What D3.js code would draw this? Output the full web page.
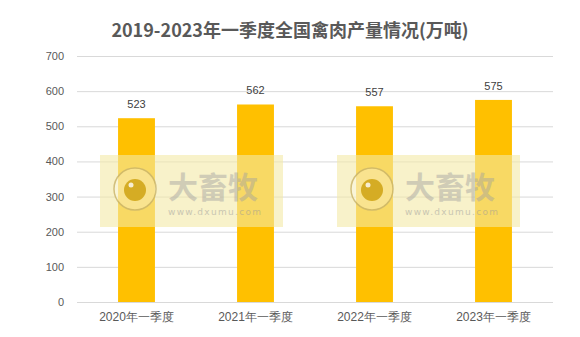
<!DOCTYPE html>
<html>
<head>
<meta charset="utf-8">
<script src="https://cdn.jsdelivr.net/npm/d3@7"></script>
<style>
  body { margin: 0; background: #fff; }
  svg { font-family: "Noto Sans CJK SC", "Liberation Sans", sans-serif; }
</style>
</head>
<body>
<div class="chart"></div>
<script>
var categories = ['2020年一季度', '2021年一季度', '2022年一季度', '2023年一季度'];
var values = [523, 562, 557, 575];
var yTicks = [0, 100, 200, 300, 400, 500, 600, 700];

var width = 580, height = 337;
var margin = {top: 56, right: 27, bottom: 35, left: 77};

var svg = d3.select('.chart').append('svg')
  .attr('width', width)
  .attr('height', height);

var x = d3.scaleBand()
  .domain(categories)
  .range([margin.left, width - margin.right])
  .paddingInner(0.69)
  .paddingOuter(0.345);

var y = d3.scaleLinear()
  .domain([0, 700])
  .range([height - margin.bottom, margin.top]);

// title
svg.append('text')
  .attr('x', 290)
  .attr('y', 37)
  .attr('text-anchor', 'middle')
  .attr('font-size', 18)
  .attr('font-weight', 'bold')
  .attr('fill', '#595959')
  .text('2019-2023年一季度全国禽肉产量情况(万吨)');

// gridlines
svg.append('g')
  .selectAll('line')
  .data(yTicks)
  .enter()
  .append('line')
  .attr('x1', margin.left)
  .attr('x2', width - margin.right)
  .attr('y1', function (d) { return y(d) + 0.5; })
  .attr('y2', function (d) { return y(d) + 0.5; })
  .attr('stroke', '#d9d9d9')
  .attr('stroke-width', 1);

// y axis labels
var yAxis = svg.append('g')
  .attr('transform', 'translate(' + (margin.left - 13) + ',0)')
  .call(d3.axisLeft(y).tickValues(yTicks).tickSize(0).tickPadding(0));
yAxis.select('.domain').remove();
yAxis.selectAll('text')
  .attr('font-size', 11)
  .attr('fill', '#595959')
  .attr('font-family', '"Liberation Sans", sans-serif');

// x axis labels
var xAxis = svg.append('g')
  .attr('transform', 'translate(0,' + y(0) + ')')
  .call(d3.axisBottom(x).tickSize(0).tickPadding(10));
xAxis.select('.domain').remove();
xAxis.selectAll('text')
  .attr('font-size', 12)
  .attr('fill', '#595959');

// bars
svg.append('g')
  .selectAll('rect')
  .data(values)
  .enter()
  .append('rect')
  .attr('x', function (d, i) { return x(categories[i]); })
  .attr('y', function (d) { return y(d); })
  .attr('width', x.bandwidth())
  .attr('height', function (d) { return y(0) - y(d); })
  .attr('fill', '#ffc000');

// value labels
svg.append('g')
  .selectAll('text')
  .data(values)
  .enter()
  .append('text')
  .attr('x', function (d, i) { return x(categories[i]) + x.bandwidth() / 2; })
  .attr('y', function (d) { return y(d) - 10; })
  .attr('text-anchor', 'middle')
  .attr('font-size', 11)
  .attr('fill', '#404040')
  .attr('font-family', '"Liberation Sans", sans-serif')
  .text(function (d) { return d; });

// watermarks
[100, 337].forEach(function (wx) {
  var g = svg.append('g').attr('transform', 'translate(' + wx + ',155)');
  g.append('rect')
    .attr('width', 183).attr('height', 72)
    .attr('fill', '#f3e9a6').attr('opacity', 0.6);
  g.append('circle')
    .attr('cx', 35).attr('cy', 34).attr('r', 21)
    .attr('fill', '#fff').attr('fill-opacity', 0.35)
    .attr('stroke', '#c9b46a').attr('stroke-width', 1.5).attr('opacity', 0.8);
  g.append('circle')
    .attr('cx', 35).attr('cy', 35).attr('r', 11)
    .attr('fill', '#c89a00').attr('opacity', 0.75);
  g.append('circle')
    .attr('cx', 31).attr('cy', 30).attr('r', 2.5)
    .attr('fill', '#fff').attr('opacity', 0.8);
  g.append('text')
    .attr('x', 68).attr('y', 43)
    .attr('font-size', 30).attr('font-weight', 'bold')
    .attr('fill', '#a0a0a0').attr('opacity', 0.45)
    .text('大畜牧');
  g.append('text')
    .attr('x', 68).attr('y', 60)
    .attr('font-size', 9)
    .attr('letter-spacing', 1.3)
    .attr('font-family', '"DejaVu Sans", sans-serif')
    .attr('fill', '#9a9a9a').attr('opacity', 0.5)
    .text('www.dxumu.com');
});
</script>
</body>
</html>
